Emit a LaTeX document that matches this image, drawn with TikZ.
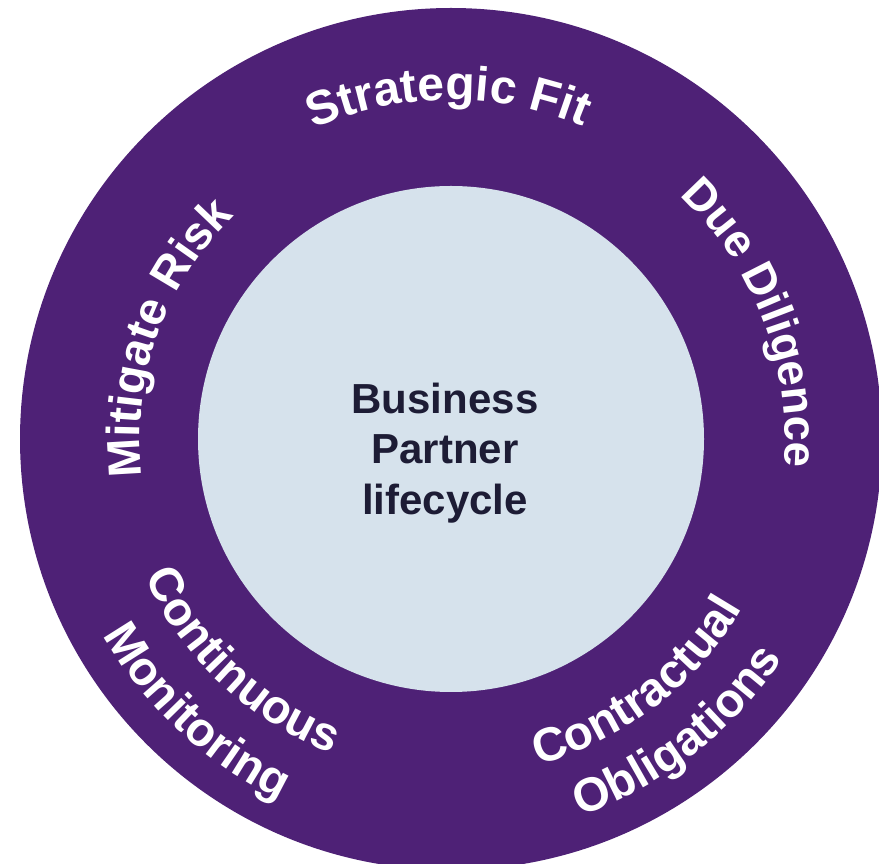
\documentclass[tikz,border=0pt]{standalone}
\usepackage{fontspec}
\setmainfont{Liberation Sans}
\usetikzlibrary{decorations.text}

\definecolor{ringpurple}{RGB}{78,33,118}
\definecolor{hubblue}{RGB}{214,226,236}
\definecolor{hubtext}{RGB}{29,28,53}

% Label set along a circular arc around (c).
% #1 radius of the baseline, #2 angle of the label's middle, #3 font size,
% #4 text. \cwlabel runs clockwise (letters upright outward),
% \ccwlabel runs counter-clockwise (letters upright inward).
\newcommand\cwlabel[4]{%
  \path[decorate, decoration={text along path, text align=center,
      text color=white, text={|\fontsize{#3}{#3}\selectfont\bfseries|#4}}]
    ([shift={(#2+90:#1)}]c) arc[start angle=#2+90, end angle=#2-90, radius=#1];}
\newcommand\ccwlabel[4]{%
  \path[decorate, decoration={text along path, text align=center,
      text color=white, text={|\fontsize{#3}{#3}\selectfont\bfseries|#4}}]
    ([shift={(#2-90:#1)}]c) arc[start angle=#2-90, end angle=#2+90, radius=#1];}

\begin{document}
\begin{tikzpicture}[x=1pt, y=1pt,
  disc/.style={circle, inner sep=0pt, outer sep=0pt, draw=none}]
  \clip (0,0) rectangle (879,863);
  \coordinate (c) at (451,424);

  % outer ring and inner hub
  \node[disc, fill=ringpurple, minimum size=862pt] (ring) at (c) {};
  \node[disc, fill=hubblue, minimum size=506pt] (hub) at (c) {};

  % hub title
  \node[font=\fontsize{42}{50.5}\selectfont\bfseries, text=hubtext, align=center]
    (hubtitle) at (445,410) {Business\\Partner\\lifecycle};

  % stages around the ring
  \cwlabel{339}{90.5}{48}{Strategic Fit}
  \cwlabel{334}{21}{45.5}{Due Diligence}
  \cwlabel{311}{160.5}{46.5}{Mitigate Risk}
  \ccwlabel{337}{-52.6}{47.5}{Contractual}
  \ccwlabel{398}{-52.3}{47.5}{Obligations}
  \ccwlabel{336}{-133.3}{47.5}{Continuous}
  \ccwlabel{399}{-133}{47.5}{Monitoring}
\end{tikzpicture}
\end{document}
